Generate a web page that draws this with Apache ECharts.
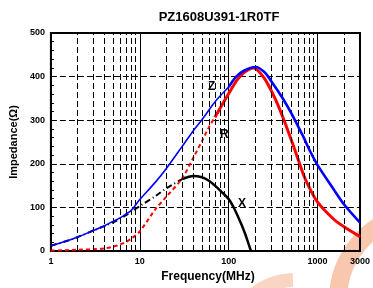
<!DOCTYPE html>
<html>
<head>
<meta charset="utf-8">
<script src="https://cdn.jsdelivr.net/npm/echarts@6/dist/echarts.min.js"></script>
<style>
  html, body { margin: 0; padding: 0; background: #fff; }
  #chart { width: 373px; height: 288px; }
</style>
</head>
<body>
<div id="chart"></div>
<script>
// 数据：频率(MHz) 和 阻抗(Ω)
const freqZ = [1, 1.5, 2, 3, 4, 5, 6, 7, 8, 10, 15, 20, 30, 40, 50, 70, 100, 120, 150, 200, 250, 300, 400, 500, 600, 700, 800, 1000, 1500, 2000, 3000];
const valZ  = [12, 23, 32, 47, 58, 68, 76, 85, 93, 118, 158, 190, 240, 276, 301, 342, 376, 399, 414, 422, 411, 390, 352, 318, 287, 260, 234, 197, 143, 106, 65];

const freqR = [1, 1.5, 2, 3, 4, 5, 6, 7, 8, 10, 15, 20, 30, 40, 50, 60, 70, 100, 125, 150, 190, 250, 330, 415, 550, 700, 800, 1000, 1500, 2000, 3000];
const valR  = [1, 2, 3, 4, 6, 10, 15, 21, 28, 45, 96, 125, 167, 214, 252, 284, 307, 361, 393, 410, 420, 397, 351, 302, 234, 173, 147, 112, 74, 55, 33];

const freqX = [1, 1.5, 2, 3, 4, 5, 6, 7, 8, 10, 15, 20, 30, 40, 50, 60, 70, 82, 100, 115, 137, 150, 162, 178];
const valX  = [12, 23, 32, 47, 57, 66, 74, 82, 90, 103, 126, 144, 165, 172, 169, 161, 150, 137, 119, 98, 64, 44, 25, 0];

const rDashEnd = 70;   // R 虚线到这里
const xDashEnd = 30;   // X 虚线到这里
const zThinEnd = 100;

const xLabels = [1, 10, 100, 1000, 3000];
const minorFreqs = [2, 3, 4, 5, 6, 7, 8, 9, 20, 30, 40, 50, 60, 70, 80, 90, 200, 300, 400, 500, 600, 700, 800, 900, 2000];

const FONT = "'Liberation Sans', Arial, sans-serif";

function pairs(f, v, from, to) {
  const out = [];
  for (let i = 0; i < f.length; i++) {
    if (f[i] >= from && f[i] <= to) out.push([f[i], v[i]]);
  }
  return out;
}

var myChart = echarts.init(document.getElementById("chart"));

var option = {
  animation: false,
  title: {
    text: "PZ1608U391-1R0TF",
    left: 214,
    top: 6,
    textAlign: "center",
    textStyle: { fontFamily: FONT, fontSize: 13, fontWeight: "bold", color: "#000" },
  },
  grid: {
    left: 50, right: 8, top: 33, bottom: 35,
    show: true, borderColor: "#000", borderWidth: 2,
  },
  xAxis: {
    type: "log",
    logBase: 10,
    min: 1,
    max: 3000,
    name: "Frequency(MHz)",
    nameLocation: "middle",
    nameGap: 20,
    nameTextStyle: { fontFamily: FONT, fontSize: 12, fontWeight: "bold", color: "#000", padding: [0, 0, 0, 5] },
    axisLine: { lineStyle: { color: "#000", width: 2 } },
    axisTick: { show: false },
    axisLabel: {
      customValues: xLabels,
      fontFamily: FONT, fontSize: 9, fontWeight: "bold", color: "#000", margin: 6,
      formatter: (v) => String(Math.round(v)),
    },
    splitLine: { show: true, lineStyle: { color: "#000", width: 1, type: "solid" } },
  },
  yAxis: {
    type: "value",
    min: 0,
    max: 500,
    interval: 100,
    name: "Impedance(Ω)",
    nameLocation: "middle",
    nameGap: 30,
    nameTextStyle: { fontFamily: FONT, fontSize: 11, fontWeight: "bold", color: "#000" },
    axisLine: { show: true, lineStyle: { color: "#000", width: 2 } },
    axisTick: { show: true, inside: true, length: 5, lineStyle: { color: "#000", width: 1 } },
    minorTick: { show: true, splitNumber: 5, length: 3, lineStyle: { color: "#000", width: 1 } },
    axisLabel: { fontFamily: FONT, fontSize: 9, fontWeight: "bold", color: "#000", margin: 6 },
    splitLine: { show: true, lineStyle: { color: "#000", width: 1, type: [6, 3] } },
  },
  graphic: [
    // 水印
    { type: "arc", z: -10, silent: true,
      shape: { cx: 425, cy: 300, r: 87, startAngle: Math.PI * 1.0, endAngle: Math.PI * 1.45 },
      style: { stroke: "#f9c6ae", lineWidth: 18, fill: null } },
    { type: "arc", z: -10, silent: true,
      shape: { cx: 295, cy: 345, r: 65, startAngle: Math.PI * 1.27, endAngle: Math.PI * 1.49 },
      style: { stroke: "#fbd5c3", lineWidth: 14, fill: null } },
    { type: "text", left: 208, top: 81, z: 100,
      style: { text: "Z", fontFamily: FONT, fontSize: 12, fontWeight: "bold", fill: "#000" } },
    { type: "text", left: 220, top: 129, z: 100,
      style: { text: "R", fontFamily: FONT, fontSize: 12, fontWeight: "bold", fill: "#000" } },
    { type: "text", left: 238, top: 198, z: 100,
      style: { text: "X", fontFamily: FONT, fontSize: 12, fontWeight: "bold", fill: "#000" } },
  ],
  series: [
    {
      name: "grid",
      type: "line",
      data: [],
      z: 1,
      markLine: {
        silent: true,
        symbol: "none",
        label: { show: false },
        lineStyle: { color: "#000", width: 1, type: [6, 3] },
        data: minorFreqs.map((f) => ({ xAxis: f })),
      },
    },
    {
      name: "X dash", type: "line", z: 3, showSymbol: false, smooth: 0.3,
      data: pairs(freqX, valX, 1, xDashEnd),
      lineStyle: { color: "#000", width: 2, type: [6, 3, 1, 3] },
    },
    {
      name: "X", type: "line", z: 3, showSymbol: false, smooth: 0.3,
      data: pairs(freqX, valX, xDashEnd, 1e9),
      lineStyle: { color: "#000", width: 2.5 },
    },
    {
      name: "R dash", type: "line", z: 4, showSymbol: false, smooth: 0.3,
      data: pairs(freqR, valR, 1, rDashEnd),
      lineStyle: { color: "#ff0000", width: 2, type: [4, 3] },
    },
    {
      name: "R", type: "line", z: 4, showSymbol: false, smooth: 0.3,
      data: pairs(freqR, valR, rDashEnd, 1e9),
      lineStyle: { color: "#ff0000", width: 3 },
    },
    {
      name: "Z1", type: "line", z: 5, showSymbol: false, smooth: 0.3,
      data: pairs(freqZ, valZ, 1, zThinEnd),
      lineStyle: { color: "#0000ff", width: 1.6 },
    },
    {
      name: "Z2", type: "line", z: 5, showSymbol: false, smooth: 0.3,
      data: pairs(freqZ, valZ, zThinEnd, 1e9),
      lineStyle: { color: "#0000ff", width: 2.6 },
    },
  ],
};

myChart.setOption(option);
</script>
</body>
</html>
